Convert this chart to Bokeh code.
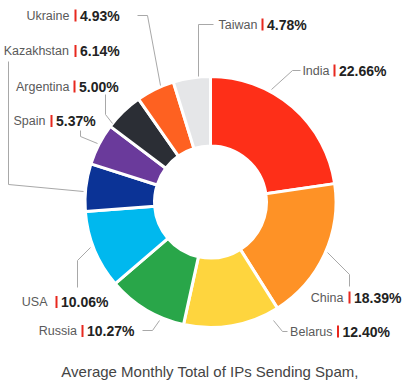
from bokeh.plotting import figure
from bokeh.models import Range1d
from bokeh.core.properties import value
from bokeh.embed import file_html
from bokeh.resources import INLINE
import math

# ---- data ----
countries = ["India", "China", "Belarus", "Russia", "USA",
             "Kazakhstan", "Spain", "Argentina", "Ukraine", "Taiwan"]
shares = [22.66, 18.39, 12.40, 10.27, 10.06, 6.14, 5.37, 5.00, 4.93, 4.78]
colors = ["#FE2F18", "#FE9226", "#FED53E", "#29A649", "#00B8EE",
          "#0B3396", "#6A3A9B", "#2B2E35", "#FE6121", "#E5E6E8"]
title_text = "Average Monthly Total of IPs Sending Spam,"

# ---- layout (screen px, y down) ----
W, H = 407, 387
CX, CY = 210, 201.5
R_OUT, R_IN = 125.5, 56

label_bar_x = [334, 349, 337.5, 82, 56, 75, 51, 74, 75, 262]
label_y = [70, 297, 331, 330.5, 301.5, 50.5, 120.5, 86, 15, 24]
name_gap = [5, 6, 5.5, 5.5, 9, 6.5, 6, 5, 6, 5]

leaders = [
    [(271, 89), (292, 70), (300, 70)],
    [(327, 252), (349, 274), (349, 286)],
    [(273, 320), (282, 331), (287, 331)],
    [(142, 330), (152, 330), (159, 320)],
    [(90, 247), (77, 260), (77, 287)],
    [(83, 191), (8, 184), (8, 61)],
    [(97, 143), (80, 136), (80, 130)],
    [(105, 94), (105, 114), (112, 123)],
    [(137, 15), (147, 15), (160, 85)],
    [(213, 24), (198, 24), (198, 76)],
]


def Y(s):
    return H - s


p = figure(width=W, height=H, output_backend="svg", toolbar_location=None,
           x_range=Range1d(0, W), y_range=Range1d(0, H),
           min_border=0, outline_line_color=None)
p.axis.visible = False
p.grid.visible = False
p.background_fill_color = "white"

starts, ends = [], []
cum = 0.0
for s in shares:
    starts.append(math.radians(90 - cum * 3.6))
    cum += s
    ends.append(math.radians(90 - cum * 3.6))

p.annular_wedge(x=CX, y=Y(CY), inner_radius=R_IN, outer_radius=R_OUT,
                start_angle=starts, end_angle=ends, direction="clock",
                fill_color=colors, line_color="white", line_width=3)

p.multi_line(xs=[[pt[0] for pt in l] for l in leaders],
             ys=[[Y(pt[1]) for pt in l] for l in leaders],
             line_color="#A8A8A8", line_width=1)

name_x = [b - g for b, g in zip(label_bar_x, name_gap)]
val_x = [b + 4.5 for b in label_bar_x]
ys = [Y(v) for v in label_y]
vals = ["%.2f%%" % s for s in shares]

p.text(x=name_x, y=ys, text=countries, text_align="right",
       text_baseline="middle", text_font=value("Liberation Sans"),
       text_font_size="12.5px", text_color="#5A5A5A")
p.segment(x0=label_bar_x, x1=label_bar_x,
          y0=[y - 6 for y in ys], y1=[y + 6 for y in ys],
          line_color="#E8281E", line_width=2)
p.text(x=val_x, y=ys, text=vals, text_align="left",
       text_baseline="middle", text_font=value("Liberation Sans"),
       text_font_size="14px", text_font_style="bold", text_color="#222222")

p.text(x=[209.5], y=[Y(371)], text=[title_text], text_align="center",
       text_baseline="middle", text_font=value("Liberation Sans"),
       text_font_size="15px", text_color="#444444")

open("out.html", "w").write(file_html(p, INLINE))
